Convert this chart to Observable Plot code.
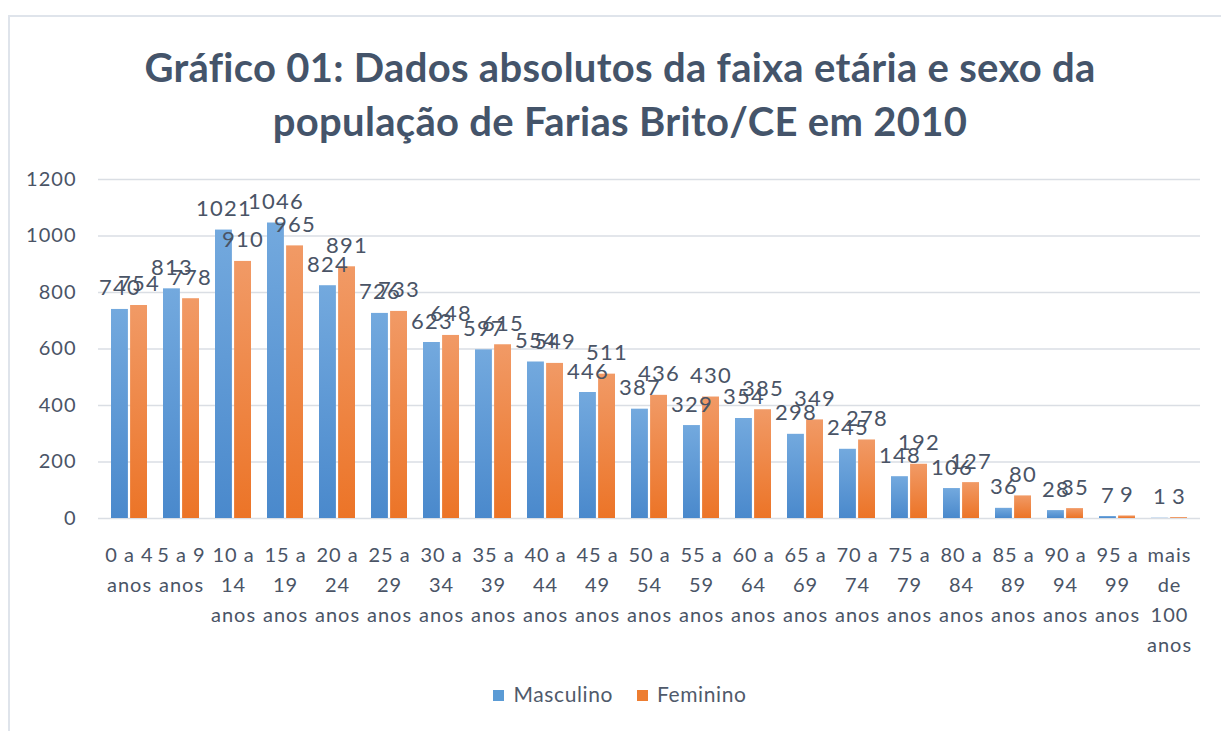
<!DOCTYPE html>
<html>
<head>
<meta charset="utf-8">
<script src="https://cdn.jsdelivr.net/npm/d3@7"></script>
<script src="https://cdn.jsdelivr.net/npm/@observablehq/plot@0.6"></script>
<style>
  html, body { margin: 0; padding: 0; background: #fff; }
  body { width: 1221px; height: 731px; position: relative; overflow: hidden; font-family: Lato, "Open Sans", sans-serif; }
  #frame { position: absolute; left: 8px; top: 15px; width: 1400px; height: 900px; border-left: 2px solid #dfe4eb; border-top: 2px solid #dfe4eb; }
  #title { position: absolute; left: 0; top: 40px; width: 1240px; text-align: center; font-weight: 700; font-size: 40px; line-height: 54px; color: #44546a; letter-spacing: 0.3px; }
  #chart { position: absolute; left: 0; top: 150px; }
  #legend { position: absolute; left: 0; top: 681px; width: 1240px; text-align: center; font-size: 21px; color: #505a6b; letter-spacing: 0.6px; }
  #legend span.sw { display: inline-block; width: 11px; height: 11px; margin-right: 9px; vertical-align: 1px; }
  #legend span.item { margin: 0 12px; }
  #chart svg g[aria-label="text"] text { letter-spacing: 1.2px; }
  #chart svg g[aria-label="x-axis tick label"] text, #chart svg g[aria-label="y-axis tick label"] text { letter-spacing: 1px; }
</style>
</head>
<body>
<div id="frame"></div>
<div id="title">Gráfico 01: Dados absolutos da faixa etária e sexo da<br>população de Farias Brito/CE em 2010</div>
<div id="chart"></div>
<div id="legend"><span class="item"><span class="sw" style="background:#5b9bd5"></span>Masculino</span><span class="item"><span class="sw" style="background:#ed7d31"></span>Feminino</span></div>
<script>
const categories = ["0 a 4 anos","5 a 9 anos","10 a 14 anos","15 a 19 anos","20 a 24 anos","25 a 29 anos","30 a 34 anos","35 a 39 anos","40 a 44 anos","45 a 49 anos","50 a 54 anos","55 a 59 anos","60 a 64 anos","65 a 69 anos","70 a 74 anos","75 a 79 anos","80 a 84 anos","85 a 89 anos","90 a 94 anos","95 a 99 anos","mais de 100 anos"];
const tickLabels = ["0 a 4\nanos","5 a 9\nanos","10 a\n14\nanos","15 a\n19\nanos","20 a\n24\nanos","25 a\n29\nanos","30 a\n34\nanos","35 a\n39\nanos","40 a\n44\nanos","45 a\n49\nanos","50 a\n54\nanos","55 a\n59\nanos","60 a\n64\nanos","65 a\n69\nanos","70 a\n74\nanos","75 a\n79\nanos","80 a\n84\nanos","85 a\n89\nanos","90 a\n94\nanos","95 a\n99\nanos","mais\nde\n100\nanos"];
const masculino = [740,813,1021,1046,824,726,623,597,554,446,387,329,354,298,245,148,106,36,28,7,1];
const feminino  = [754,778,910,965,891,733,648,615,549,511,436,430,385,349,278,192,127,80,35,9,3];
const yTicks = [0,200,400,600,800,1000,1200];

const masc = categories.map((c,i)=>({cat:c, v:masculino[i]}));
const fem  = categories.map((c,i)=>({cat:c, v:feminino[i]}));

const textColor = "#4a5466";

function defs() {
  const d = d3.create("svg:defs");
  const g1 = d.append("linearGradient").attr("id","gBlue").attr("x1",0).attr("y1",0).attr("x2",0).attr("y2",1);
  g1.append("stop").attr("offset","0%").attr("stop-color","#73a9de");
  g1.append("stop").attr("offset","100%").attr("stop-color","#4a89cc");
  const g2 = d.append("linearGradient").attr("id","gOrange").attr("x1",0).attr("y1",0).attr("x2",0).attr("y2",1);
  g2.append("stop").attr("offset","0%").attr("stop-color","#f19a66");
  g2.append("stop").attr("offset","100%").attr("stop-color","#ec7427");
  return d.node();
}

const half = 18.6;

const chart = Plot.plot({
  width: 1221,
  height: 510,
  marginLeft: 98,
  marginRight: 21,
  marginTop: 29,
  marginBottom: 142,
  style: {fontFamily: "Lato, 'Open Sans', sans-serif", color: textColor, background: "transparent"},
  x: {domain: categories, paddingInner: 0.3, paddingOuter: 0.15, label: null},
  y: {domain: [0,1200], label: null},
  marks: [
    defs,
    Plot.gridY(yTicks, {stroke: "#dadee4", strokeOpacity: 1, strokeWidth: 1.5}),
    Plot.barY(masc, {x: "cat", y: "v", fill: "url(#gBlue)", insetRight: half + 0.5}),
    Plot.barY(fem, {x: "cat", y: "v", fill: "url(#gOrange)", insetLeft: half + 0.5}),
    Plot.text(masc, {x: "cat", y: "v", text: d => String(d.v), dx: -9.5, dy: -14, lineAnchor: "bottom", fontSize: 22, fill: textColor}),
    Plot.text(fem, {x: "cat", y: "v", text: d => String(d.v), dx: 9.5, dy: -14, lineAnchor: "bottom", fontSize: 22, fill: textColor}),
    Plot.axisY({ticks: yTicks, tickSize: 0, tickPadding: 22, fontSize: 20, label: null, tickFormat: d => String(d)}),
    Plot.axisX({tickSize: 0, tickPadding: 22, fontSize: 20, lineHeight: 1.5, label: null,
      tickFormat: d => tickLabels[categories.indexOf(d)]})
  ]
});
document.getElementById("chart").appendChild(chart);
</script>
</body>
</html>
